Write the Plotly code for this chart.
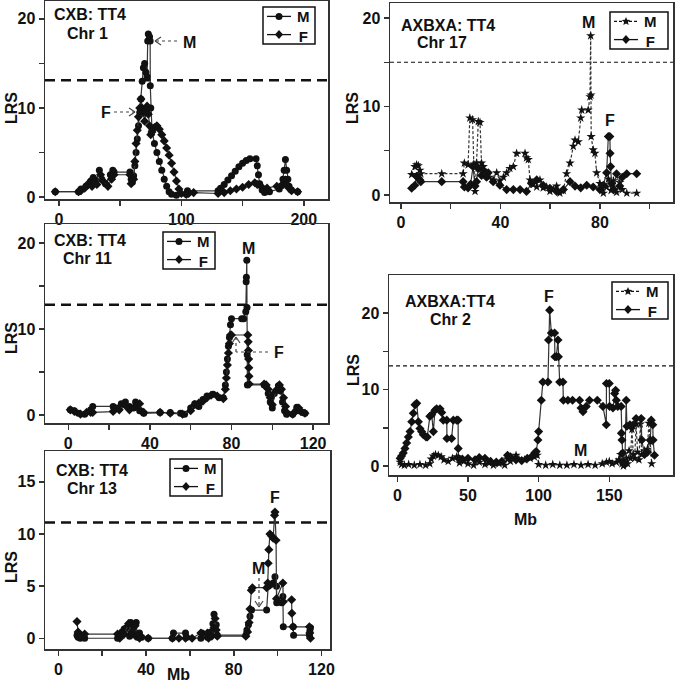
import math
import plotly.graph_objects as go

# ---------------- DATA ----------------
# CXB Chr 1
chr1_m_mb = [-3, 16, 18, 22, 26, 28, 30, 33, 35, 38, 42, 44, 45, 58, 59, 60, 61, 62, 63, 64, 65, 66, 67, 68, 69, 70, 71, 72,
             72.5, 73, 74, 74.5, 74.6, 75, 76, 78, 80, 82, 84, 86, 88, 90, 92, 96, 104, 105, 130, 132, 135, 138, 141, 144,
             147, 150, 153, 156, 161, 162, 163, 164, 166, 168, 172, 180, 182, 183, 184, 185, 186, 187, 188, 190, 195]
chr1_m_lrs = [0.6, 0.6, 0.9, 1.2, 1.8, 2.2, 1.6, 3.0, 2.0, 1.5, 2.5, 3.0, 2.8, 2.8, 2.0, 1.7, 2.4, 3.5, 5.0, 6.5, 8.0, 9.5, 11,
              13, 14.5, 15, 14, 13.5, 17.5, 18.3, 18, 17.5, 12.5, 10, 7.5, 6.0, 5.0, 4.0, 3.0, 2.0, 1.2, 0.6, 0.3, 0.2, 0.3,
              0.7, 0.7, 1.0, 1.4, 1.9, 2.4, 2.9, 3.4, 3.8, 4.1, 4.3, 4.3, 3.5, 2.5, 1.5, 0.8, 0.5, 0.6, 0.9, 1.3, 2.0, 3.0,
              4.2, 3.0, 2.0, 1.2, 0.8, 0.6]
chr1_f_mb = [-3, 16, 18, 21, 24, 27, 29, 31, 34, 36, 40, 43, 45, 58, 59, 61, 62, 63, 64, 65, 66, 67, 68, 69, 70, 71, 72, 73,
             74, 75, 76, 78, 80, 82, 84, 86, 88, 90, 92, 94, 96, 98, 100, 104, 106, 110, 130, 135, 140, 145, 150, 155, 160,
             162, 165, 170, 178, 183, 185, 186, 188, 190, 195]
chr1_f_lrs = [0.6, 0.6, 0.7, 1.0, 1.5, 1.2, 2.0, 1.4, 2.5, 1.8, 1.2, 2.0, 2.5, 2.5, 1.5, 2.0, 4, 6, 7.5, 9, 10, 11, 10, 9.5,
              8.5, 9.6, 10.2, 9.3, 8.0, 7.0, 7.3, 7.8, 8.0, 7.6, 7.0, 6.3, 5.5, 4.7, 3.8, 2.8, 1.8, 0.9, 0.4, 0.3, 0.4, 0.5,
              0.4, 0.5, 0.7, 0.9, 1.1, 1.4, 1.6, 1.4, 1.2, 1.0, 1.2, 1.4, 1.9, 1.4, 1.0, 0.7, 0.6]

# CXB Chr 11
chr11_m_mb = [1, 3, 5, 8, 11, 12, 22, 24, 26, 28, 30, 32, 33, 35, 37, 45, 50, 55, 57, 60, 62, 64, 66, 68, 71, 74, 76, 77,
              77.5, 78, 78.5, 79, 79.5, 80, 85, 86, 87, 87.2, 87.3, 87.5, 87.6, 87.7, 87.8, 96, 97, 98, 99, 100, 101, 103,
              104, 105, 106, 107, 110, 112, 113, 115, 116]
chr11_m_lrs = [0.6, 0.5, 0.2, 0.1, 0.6, 1.0, 1.0, 0.8, 1.3, 1.5, 1.0, 0.8, 1.5, 0.5, 0.2, 0.3, 0.3, 0.2, 0.1, 0.8, 1.3, 1.0,
               1.8, 2.2, 2.4, 2.0, 2.0, 3.5, 5.0, 6.5, 8, 9, 10.5, 11.2, 11.2, 11.2, 12, 15.5, 16, 18, 12.5, 7, 3.5, 3.5,
               3.3, 2.5, 1.5, 0.8, 2.5, 3.4, 2.8, 1.5, 0.5, 0.1, 0.1, 0.9, 0.5, 0.3, 0.2]
chr11_f_mb = [1, 3, 6, 9, 11, 12, 22, 25, 28, 30, 33, 35, 36, 37, 45, 50, 56, 60, 62, 64, 66, 68, 70, 73, 76, 77, 77.5, 78,
              78.5, 79, 79.5, 80, 88, 88.2, 88.3, 88.4, 88.5, 88.6, 88.7, 96, 97, 98, 99, 100, 102, 103.5, 104.5, 105.5,
              106.5, 107.5, 110, 112, 113, 114, 116]
chr11_f_lrs = [0.6, 0.4, 0.1, 0.3, 0.3, 0.3, 0.4, 0.6, 1.1, 0.6, 1.0, 1.3, 0.4, 0.3, 0.3, 0.2, 0.1, 0.5, 1.2, 1.4, 1.6, 2.0,
               2.3, 2.2, 1.9, 3, 4.3, 5.8, 7.2, 8.3, 9.3, 9.3, 9.3, 8.5, 7.5, 6.5, 5.5, 4.5, 3.6, 3.6, 3.5, 3.0, 2.0, 1.2,
               2.9, 3.5, 3.0, 2.0, 1.0, 0.2, 0.1, 0.6, 0.8, 0.4, 0.2]

# CXB Chr 13
chr13_m_mb = [8.5, 9, 10, 11, 12, 27, 28, 29, 30, 31, 32.5, 33, 34, 35, 35.5, 36, 37, 38, 41, 52, 52.5, 58, 58.5, 65, 65.5,
              68, 69.5, 70.5, 71, 72, 72.5, 85.5, 86, 86.7, 87.4, 88.1, 95, 95.7, 96.5, 98, 98.8, 99.5, 99.6, 101.8, 102.4,
              102.6, 107.1, 107.3, 114.5, 114.7, 115]
chr13_m_lrs = [0.3, 0.1, 0.0, 0.2, 0.0, 0.0, 0.3, 0.6, 0.9, 1.0, 0.2, 1.5, 1.0, 0.3, 1.5, 0.1, 0.5, 0.1, 0.0, 0.0, 0.5, 0.5,
               0.1, 0.0, 0.5, 0.1, 0.6, 1.4, 2.3, 1.3, 0.3, 0.3, 0.8, 1.3, 2.1, 2.7, 2.7, 5.0, 5.1, 5.3, 5.9, 5.0, 3.4, 3.4,
               4.0, 1.1, 1.1, 0.3, 0.3, 0.7, 1.0]
chr13_f_mb = [8.5, 9, 10, 12, 27, 28, 30, 32, 33.5, 35, 36, 37, 41, 52, 55, 58, 61, 65, 68, 68.5, 70, 71, 71.5, 72, 72.5,
              85.5, 86.3, 87, 87.4, 88, 88.5, 95, 95.5, 95.7, 96, 96.5, 97.3, 98, 98.6, 98.8, 99.3, 99.5, 102.4, 102.6,
              106.4, 106.5, 107, 114.5, 114.7, 115]
chr13_f_lrs = [1.6, 0.6, 0.3, 0.4, 0.4, 0.0, 0.4, 1.4, 0.6, 1.2, 0.3, 0.0, 0.0, 0.0, 0.0, 0.0, 0.0, 0.5, 0.5, 0.0, 0.2, 1.0,
               1.9, 0.8, 0.2, 0.2, 0.6, 1.5, 2.8, 4.6, 4.85, 4.85, 5.3, 7.2, 8.5, 10.0, 9.8, 9.6, 11.8, 12.1, 9.4, 3.8, 5.3,
               3.5, 3.7, 2.4, 1.1, 1.1, 0.5, 0.0]

# AXBXA Chr 17
chr17_m_mb = [4.3, 5.6, 6.3, 7, 7.6, 8, 16.4, 25, 25.5, 27, 27.7, 28.8, 29.3, 29.8, 30.4, 31.1, 31.8, 32.4, 33.1, 34.4,
              35.5, 37.1, 38.5, 39.8, 41.2, 42.5, 43.8, 45.2, 46.5, 49.9, 50.5, 51.2, 51.9, 53, 54.6, 55.9, 57.2, 58.6,
              59.9, 61.3, 62.6, 63.9, 65.3, 66.6, 68, 69.3, 70, 71.3, 72.3, 72.7, 75.3, 76, 76.3, 76.4, 76.5, 77.3, 78,
              78.7, 80, 81.4, 82.7, 83.4, 84.5, 85.5, 86.7, 88, 89, 90.8, 94.8]
chr17_m_lrs = [2.3, 3.2, 3.4, 3.3, 2.8, 2.4, 2.4, 2.4, 3.6, 3.4, 8.7, 8.5, 3.5, 0.4, 3.6, 8.3, 8.2, 3.6, 3.2, 2.5, 2.0, 1.7,
               2.5, 1.6, 2.0, 2.5, 3.0, 3.2, 4.7, 4.7, 4.2, 4.0, 1.7, 1.2, 0.9, 1.7, 0.8, 0.9, 0.4, 0.6, 1.0, 0.2, 0.5,
               2.4, 3.6, 5.5, 6.2, 6.0, 8.7, 9.6, 9.6, 11.1, 18.0, 11.3, 6.6, 5.1, 4.7, 2.5, 1.3, 0.2, 0.9, 1.8, 0.5, 1.6,
               0.3, 1.4, 0.6, 0.2, 0.2]
chr17_f_mb = [4.3, 5.6, 6.3, 7, 7.6, 8, 16.4, 25, 25.5, 27, 28, 29, 29.8, 30.4, 31.1, 32.4, 33.1, 34.4, 35.1, 37.1, 39.8,
              42.5, 45.2, 47.9, 50.5, 52.5, 54.6, 57.2, 59.9, 62.6, 65.3, 68, 70, 72.3, 74.7, 77.3, 80, 81.4, 82.7, 83.4,
              84, 84.1, 84.3, 84.7, 85.5, 86.7, 88, 89, 90.8, 94.8]
chr17_f_lrs = [0.75, 1.1, 2.1, 1.9, 1.7, 1.5, 1.5, 1.5, 0.9, 0.8, 1.2, 3.2, 1.0, 1.5, 3.0, 2.2, 2.8, 2.0, 2.5, 1.5, 1.1, 0.6,
               0.6, 0.6, 0.4, 1.3, 1.7, 1.1, 0.75, 0.4, 0.6, 1.5, 1.0, 0.8, 1.1, 0.9, 0.6, 1.1, 2.5, 6.6, 6.6, 4.7, 3.2,
               1.3, 0.6, 2.4, 1.0, 2.0, 2.4, 2.4]

# AXBXA Chr 2
chr2_m_mb = [2, 3, 5, 8, 12, 16, 20, 23, 24, 25.5, 27, 29, 31, 33, 36, 39, 42, 44, 47, 50, 54, 58, 62, 65, 68, 72, 76, 78,
             80, 84, 86, 90, 94, 97, 99, 100, 105, 110, 115, 120, 125, 130, 135, 140, 145, 148, 150, 152, 155, 157, 158,
             159, 160, 161, 162, 163, 164, 165, 166, 167, 168, 169, 170, 171, 172, 173, 175, 177, 178, 179, 180]
chr2_m_lrs = [0.5, 0.2, 0.1, 0.2, 0.1, 0.2, 0.1, 0.3, 0.9, 1.3, 1.5, 1.4, 1.2, 0.8, 0.6, 1.0, 1.2, 0.4, 0.6, 0.3, 0.1, 0.5,
              0.2, 0.4, 0.1, 0.3, 0.1, 0.9, 0.6, 1.4, 0.9, 0.8, 1.0, 1.2, 1.4, 0.2, 0.1, 0.2, 0.1, 0.1, 0.2, 0.1, 0.2, 0.1,
              0.3, 0.5, 0.6, 0.3, 0.5, 0.8, 1.5, 0.3, 0.0, 0.4, 1.0, 0.3, 2.0, 1.0, 4.8, 1.5, 1.0, 5.5, 1.8, 0.8, 5.5, 1.5,
              2.0, 2.2, 5.6, 3.2, 0.3]
chr2_f_mb = [2, 3, 4.2, 5.4, 6.6, 7.8, 9, 10.2, 11.3, 12.5, 13.7, 14.9, 16, 17.2, 18.4, 20.3, 21.2, 23, 24.3, 25.5, 26.6,
             27.8, 30.2, 31.4, 32.5, 35, 35.1, 38.4, 39.6, 42, 43, 43.1, 43.3, 46, 50, 55, 58, 62, 66, 70, 74, 78, 80, 84,
             88, 92, 95, 97.2, 98.3, 99.5, 100, 101.9, 103, 106.6, 107, 107.8, 109, 111.3, 111.5, 112.5, 113.7, 114, 114.9,
             117.2, 117.5, 120.7, 124, 129, 130, 131.4, 133.7, 136, 141.5, 145.5, 147.9, 148, 150, 150.2, 152.6, 153.8,
             154.5, 155, 156, 158.4, 158.6, 159, 159.5, 160, 161, 162, 162.5, 164.6, 167, 169, 172.6, 173, 175, 177, 179,
             179.7, 180.8, 181, 182]
chr2_f_lrs = [1.0, 1.3, 1.7, 2.3, 3.0, 3.8, 4.5, 5.8, 6.9, 8.0, 8.2, 5.8, 4.9, 4.5, 4.1, 3.8, 3.8, 6.5, 6.7, 4.5, 7.3, 7.5,
              7.5, 7.0, 6.0, 6.0, 3.6, 3.6, 6.0, 6.0, 6.0, 2.3, 1.0, 0.9, 1.0, 0.8, 1.1, 1.0, 0.6, 0.5, 0.6, 1.4, 1.2, 0.8,
              0.7, 1.0, 1.2, 1.7, 1.9, 3.4, 4.5, 8.6, 11.0, 11.0, 16.5, 20.4, 17.4, 17.4, 14.3, 14.3, 16.5, 14.3, 11.0,
              11.0, 8.6, 8.6, 8.6, 8.6, 7.6, 7.1, 7.8, 8.6, 8.6, 7.8, 5.4, 10.8, 10.8, 7.8, 7.6, 9.5, 9.9, 8.6, 7.8, 7.8,
              4.3, 3.4, 1.7, 0.5, 0.2, 8.6, 5.2, 5.4, 5.4, 6.2, 6.2, 3.4, 1.5, 1.8, 3.4, 6.0, 5.4, 3.4, 1.4]

# thresholds
thr_chr1, thr_chr11, thr_chr13, thr_chr17, thr_chr2 = 13.1, 12.8, 11.1, 15.0, 13.1

# ---------------- FIGURE ----------------
W, H = 675, 683
FONT = "Liberation Sans, Arial, sans-serif"
INK = "#111111"
LINE = "#333333"


def px2x(p):
    return p / W


def px2y(p):
    return 1 - p / H


panels = [
    dict(ax="", box=(45, 328, 1, 199), xr=[-11.4, 219.8], yr=[-0.22, 22.0],
         xt=[0, 50, 100, 150, 200], xtl=["0", "", "100", "", "200"],
         yt=[0, 5, 10, 15, 20], ytl=["0", "", "10", "", "20"],
         m=(chr1_m_mb, chr1_m_lrs), f=(chr1_f_mb, chr1_f_lrs), thr=thr_chr1, style="left",
         leg=(263, 315, 7, 44)),
    dict(ax="2", box=(45, 328, 224, 423), xr=[-11.4, 127.3], yr=[-0.93, 22.2],
         xt=[0, 20, 40, 60, 80, 100, 120], xtl=["0", "", "40", "", "80", "", "120"],
         yt=[0, 5, 10, 15, 20], ytl=["0", "", "10", "", "20"],
         m=(chr11_m_mb, chr11_m_lrs), f=(chr11_f_mb, chr11_f_lrs), thr=thr_chr11, style="left",
         leg=(163, 215, 232, 269)),
    dict(ax="3", box=(45, 330, 451, 649), xr=[-6.1, 123.9], yr=[-1.03, 17.96],
         xt=[0, 20, 40, 60, 80, 100, 120], xtl=["0", "", "40", "", "80", "", "120"],
         yt=[0, 5, 10, 15], ytl=["0", "5", "10", "15"],
         m=(chr13_m_mb, chr13_m_lrs), f=(chr13_f_mb, chr13_f_lrs), thr=thr_chr13, style="left",
         leg=(170, 222, 459, 496)),
    dict(ax="4", box=(390, 673, 3, 202), xr=[-4.4, 109.4], yr=[-0.8, 21.7],
         xt=[0, 20, 40, 60, 80, 100], xtl=["0", "", "40", "", "80", ""],
         yt=[0, 5, 10, 15, 20], ytl=["0", "", "10", "", "20"],
         m=(chr17_m_mb, chr17_m_lrs), f=(chr17_f_mb, chr17_f_lrs), thr=thr_chr17, style="right",
         leg=(610, 668, 12, 49)),
    dict(ax="5", box=(389, 673, 275, 475), xr=[-5.9, 195.1], yr=[-1.18, 25.0],
         xt=[0, 50, 100, 150], xtl=["0", "50", "100", "150"],
         yt=[0, 5, 10, 15, 20], ytl=["0", "", "10", "", "20"],
         m=(chr2_m_mb, chr2_m_lrs), f=(chr2_f_mb, chr2_f_lrs), thr=thr_chr2, style="right",
         leg=(612, 668, 282, 319)),
]

fig = go.Figure()
layout = dict(width=W, height=H, margin=dict(l=0, r=0, t=0, b=0, autoexpand=False),
              paper_bgcolor="white", plot_bgcolor="white", showlegend=False,
              font=dict(family=FONT, color=INK, size=15, weight="bold"),
              shapes=[], annotations=[])


def ppath(points):
    return "M " + " L ".join(f"{px2x(x):.5f},{px2y(y):.5f}" for x, y in points) + " Z"


def add_marker(kind, cx, cy):
    if kind == "circle":
        layout["shapes"].append(dict(type="circle", xref="paper", yref="paper",
                                     x0=px2x(cx - 3.5), x1=px2x(cx + 3.5), y0=px2y(cy + 3.5), y1=px2y(cy - 3.5),
                                     fillcolor=INK, line=dict(width=0)))
    elif kind == "diamond":
        pts = [(cx, cy - 4.5), (cx + 4, cy), (cx, cy + 4.5), (cx - 4, cy)]
        layout["shapes"].append(dict(type="path", xref="paper", yref="paper", path=ppath(pts),
                                     fillcolor=INK, line=dict(width=0)))
    else:  # star
        pts = []
        for k in range(10):
            r = 4.5 if k % 2 == 0 else 2.0
            ang = -math.pi / 2 + k * math.pi / 5
            pts.append((cx + r * math.cos(ang), cy + r * math.sin(ang)))
        layout["shapes"].append(dict(type="path", xref="paper", yref="paper", path=ppath(pts),
                                     fillcolor=INK, line=dict(width=0)))


LEG_FS = 14
LEG_GAP = LEG_FS * 1.3


def add_legend(box, style):
    L, R, T, B = box
    layout["shapes"].append(dict(type="rect", xref="paper", yref="paper",
                                 x0=px2x(L), x1=px2x(R), y0=px2y(B), y1=px2y(T),
                                 line=dict(color=INK, width=1.5), fillcolor="white"))
    mid = (T + B) / 2
    rows = [mid - LEG_GAP / 2, mid + LEG_GAP / 2]
    for row, name in zip(rows, ["M", "F"]):
        dash = "3px,2px" if (style == "right" and name == "M") else "solid"
        layout["shapes"].append(dict(type="line", xref="paper", yref="paper",
                                     x0=px2x(L + 4), x1=px2x(L + 28), y0=px2y(row), y1=px2y(row),
                                     line=dict(color=INK, width=1.3, dash=dash)))
        if name == "M":
            add_marker("circle" if style == "left" else "star", L + 16, row)
        else:
            add_marker("diamond", L + 16, row)
    layout["annotations"].append(dict(x=px2x(L + 40), y=px2y(mid + 1), xref="paper", yref="paper",
                                      text="M<br>F", showarrow=False, xanchor="center", yanchor="middle",
                                      align="center",
                                      font=dict(family=FONT, size=LEG_FS + 1, color=INK, weight="bold")))


for i, p in enumerate(panels):
    a = p["ax"]
    xa = "x" + a
    ya = "y" + a
    x0, x1, y0, y1 = p["box"]
    axis_common = dict(showline=True, mirror=True, linecolor=LINE, linewidth=1.5,
                       ticks="outside", ticklen=5, tickwidth=1.5, tickcolor=LINE,
                       showgrid=False, zeroline=False, automargin=False,
                       tickfont=dict(family=FONT, size=16, color=INK, weight="bold"))
    layout["xaxis" + a] = dict(domain=[px2x(x0), px2x(x1)], range=p["xr"], anchor=ya,
                               tickmode="array", tickvals=p["xt"], ticktext=p["xtl"], **axis_common)
    layout["yaxis" + a] = dict(domain=[px2y(y1), px2y(y0)], range=p["yr"], anchor=xa,
                               tickmode="array", tickvals=p["yt"], ticktext=p["ytl"], **axis_common)
    if p["style"] == "left":
        m_line = dict(color=LINE, width=1.2)
        f_line = dict(color=LINE, width=1.2)
        m_marker = dict(symbol="circle", size=7, color=INK)
        f_marker = dict(symbol="diamond", size=7, color=INK)
        thr_line = dict(color=INK, width=2.5, dash="10px,6px")
    else:
        m_line = dict(color=LINE, width=1.2, dash="3px,2px")
        f_line = dict(color=LINE, width=1.2)
        m_marker = dict(symbol="star", size=7, color=INK)
        f_marker = dict(symbol="diamond", size=7, color=INK)
        thr_line = dict(color=INK, width=1.2, dash="4px,3px")
    fig.add_trace(go.Scatter(x=p["m"][0], y=p["m"][1], mode="lines+markers", name="M",
                             line=m_line, marker=m_marker, xaxis=xa, yaxis=ya))
    fig.add_trace(go.Scatter(x=p["f"][0], y=p["f"][1], mode="lines+markers", name="F",
                             line=f_line, marker=f_marker, xaxis=xa, yaxis=ya))
    layout["shapes"].append(dict(type="line", xref=xa + " domain", yref=ya, x0=0, x1=1,
                                 y0=p["thr"], y1=p["thr"], line=thr_line, layer="below"))
    add_legend(p["leg"], p["style"])


# ---------------- TEXT ----------------
def txt(x, y, s, size=16, xanchor="center", yanchor="middle", angle=0):
    layout["annotations"].append(dict(x=px2x(x), y=px2y(y), xref="paper", yref="paper", text=s,
                                      showarrow=False, xanchor=xanchor, yanchor=yanchor, textangle=angle,
                                      font=dict(family=FONT, size=size, color=INK, weight="bold")))


# panel titles
txt(90, 15, "CXB: TT4")
txt(88, 33, "Chr 1")
txt(90, 240, "CXB: TT4")
txt(88, 258, "Chr 11")
txt(92, 470, "CXB: TT4")
txt(92, 488, "Chr 13")
txt(448, 25, "AXBXA: TT4")
txt(442, 42, "Chr 17")
txt(450, 302, "AXBXA:TT4")
txt(450, 319, "Chr 2")

# axis titles
for (x, y) in [(11, 108), (11, 338), (11, 567), (352, 108), (353, 370)]:
    txt(x, y, "LRS", size=16, angle=-90)
txt(178, 674, "Mb", size=16)
txt(525, 519, "Mb", size=16)

# peak labels
txt(181, 42, "M", xanchor="left")
txt(106, 112, "F")
txt(248, 248, "M")
txt(272, 352, "F", xanchor="left")
txt(275, 497, "F")
txt(258, 568, "M")
txt(588, 23, "M")
txt(610, 120, "F")
txt(549, 296, "F")
txt(580, 450, "M")


# dotted arrows (pixel geometry)
def pline(xa, ya, xb, yb, dash="dot", w=1.2):
    layout["shapes"].append(dict(type="line", xref="paper", yref="paper",
                                 x0=px2x(xa), y0=px2y(ya), x1=px2x(xb), y1=px2y(yb),
                                 line=dict(color="#444444", width=w, dash=dash)))


# Chr1 M arrow (pointing left)
pline(177, 41, 155, 41)
pline(155, 41, 161, 37, dash="solid")
pline(155, 41, 161, 45, dash="solid")
# Chr1 F arrow (pointing right)
pline(114, 112, 135, 112)
pline(135, 112, 129, 108, dash="solid")
pline(135, 112, 129, 116, dash="solid")
# Chr11 F arrow (elbow, pointing up)
pline(268, 352, 236, 352)
pline(236, 352, 236, 337)
pline(236, 337, 232, 343, dash="solid")
pline(236, 337, 240, 343, dash="solid")
# Chr13 M arrow (pointing down)
pline(259, 578, 259, 607)
pline(259, 607, 255, 601, dash="solid")
pline(259, 607, 263, 601, dash="solid")

fig.update_layout(**layout)
fig.write_html("out.html", config={"responsive": False, "displayModeBar": False, "staticPlot": True},
               post_script="document.body.style.margin='0px';document.body.style.padding='0px';")
